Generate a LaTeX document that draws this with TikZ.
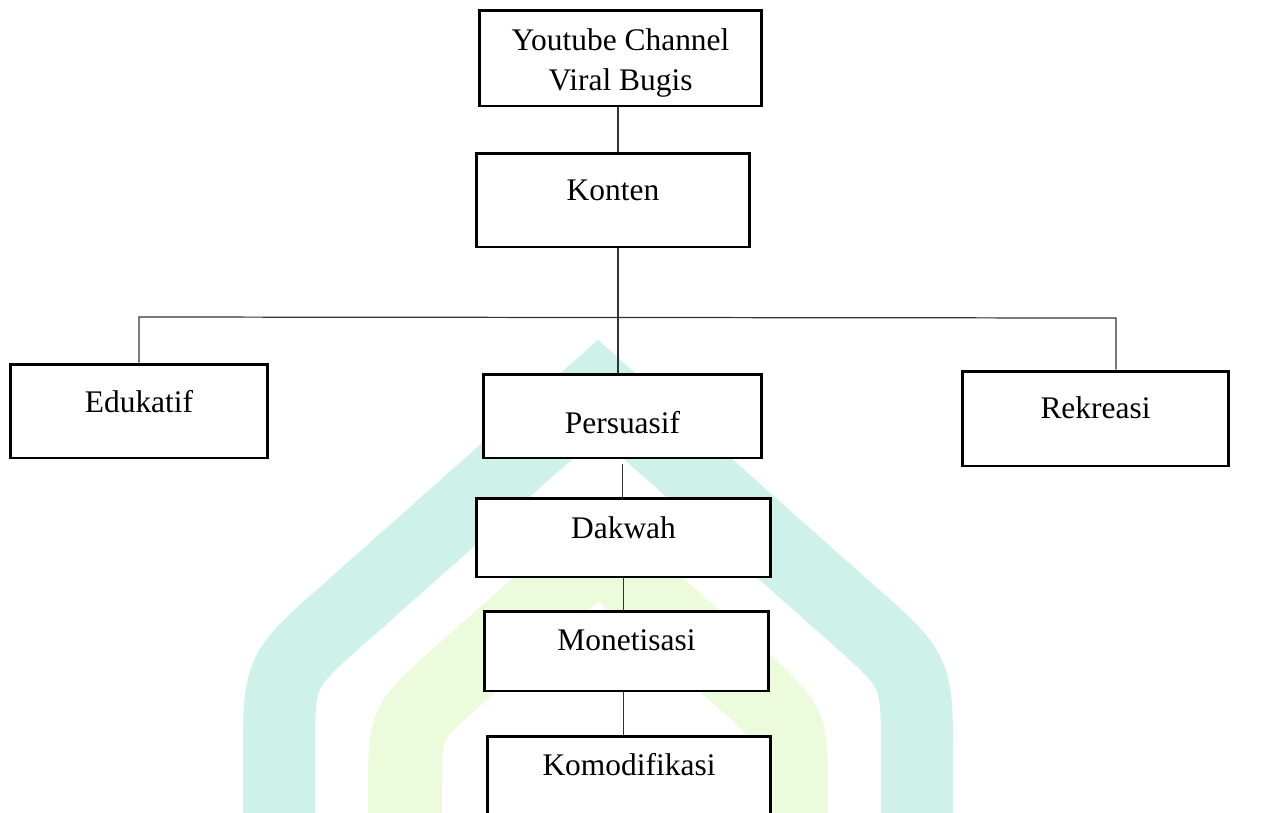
\documentclass[tikz,border=0pt]{standalone}
\usepackage{fontspec}
\setmainfont{Liberation Serif}
\definecolor{tosca}{RGB}{206,241,233}
\definecolor{hijaumuda}{RGB}{237,251,221}
\begin{document}
\begin{tikzpicture}[x=0.02cm,y=-0.02cm,
    kotak/.style={draw,line width=1.7pt,fill=white,inner xsep=0pt,inner ysep=0pt,
      font=\fontsize{17.9pt}{23.1pt}\selectfont},
    garis/.style={line width=0.7pt,black!80},
    lengkung/.style={line width=1.44cm,miter limit=10}]
\useasboundingbox (0,0) rectangle (1264,812);
\clip (0,0) rectangle (1264,812);
\fill[white] (0,0) rectangle (1264,812);
% latar
\draw[lengkung,tosca] (279,830) -- (279,755) .. controls (279,671) .. (346,612)
    -- (598,388) -- (850,612) .. controls (917,671) .. (917,755) -- (917,830);
\draw[lengkung,hijaumuda,line width=1.48cm] (405,830) -- (405,790) .. controls (405,723) .. (458,676)
    -- (598,552) -- (738,676) .. controls (791,723) .. (791,790) -- (791,830);

% kotak
\node [kotak,align=center,minimum width=5.66cm,text height=1.62cm,text depth=0.30cm] (youtube) at (620.5,58) {Youtube Channel\\Viral Bugis};
\node [kotak,minimum width=5.48cm,text height=0.94cm,text depth=0.94cm] (konten) at (613,200) {Konten};
\node [kotak,minimum width=5.16cm,text height=0.96cm,text depth=0.92cm] (edukatif) at (139,411) {Edukatif};
\node [kotak,minimum width=5.58cm,text height=1.18cm,text depth=0.50cm] (persuasif) at (622.5,416) {Persuasif};
\node [kotak,minimum width=5.34cm,text height=0.94cm,text depth=0.96cm] (rekreasi) at (1095.5,418.5) {Rekreasi};
\node [kotak,minimum width=5.90cm,text height=0.80cm,text depth=0.78cm] (dakwah) at (623.5,537.5) {Dakwah};
\node [kotak,minimum width=5.70cm,text height=0.78cm,text depth=0.82cm] (monetisasi) at (626.5,651) {Monetisasi};
\node [kotak,minimum width=5.68cm,text height=0.78cm,text depth=0.78cm] (komodifikasi) at (629,775) {Komodifikasi};

% garis
\coordinate (cabang) at (618,317);
\coordinate (kiri) at (139,317);
\coordinate (kanan) at (1116,318);
\draw [garis] (youtube.south -| cabang) -- (konten.north -| cabang);
\draw [garis] (konten.south -| cabang) -- (persuasif.north -| cabang);
\draw [garis] (kiri |- edukatif.north) -- (kiri) -- (kanan) -- (kanan |- rekreasi.north);
\draw [garis,shorten <=0.1cm] (persuasif.south) -- (persuasif.south |- dakwah.north);
\draw [garis] (dakwah.south) -- (dakwah.south |- monetisasi.north);
\draw [garis] (dakwah.south |- monetisasi.south) -- (dakwah.south |- komodifikasi.north);
\end{tikzpicture}
\end{document}
